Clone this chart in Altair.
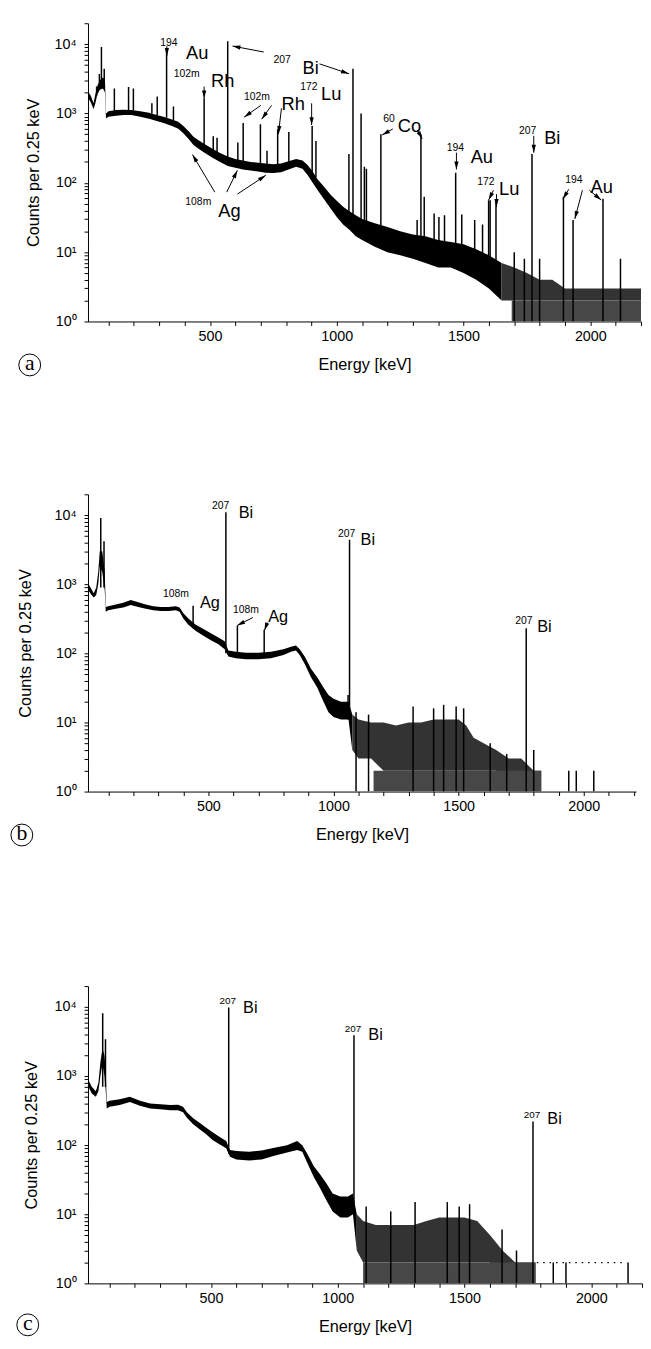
import math
import altair as alt
import pandas as pd

FONT = "Liberation Sans"
YMAX = 20000

# ---------------- Panel (a) ----------------
a_E = [18, 30, 41, 48, 56, 66, 78, 86, 90, 100, 130, 160, 190, 225, 260, 290, 320, 350, 375, 395,
       415, 435, 455, 480, 510, 540, 570, 600, 630, 660, 690, 720, 750, 780, 810, 840, 865, 885, 905, 925,
       950, 975, 1000, 1025, 1050, 1075, 1100, 1150, 1200, 1250, 1300, 1350, 1400, 1450, 1500, 1550, 1600, 1650,
       1700, 1750, 1800, 1850, 1900, 1950, 2000, 2050, 2100, 2150, 2200]
a_lo = [1700, 1450, 1150, 1400, 1900, 2200, 2300, 2000, 850, 900, 930, 950, 950, 900, 840, 780, 720, 660, 600, 520,
        430, 350, 310, 270, 230, 200, 175, 165, 155, 150, 145, 140, 138, 142, 155, 170, 160, 130, 100, 78,
        58, 43, 32, 25, 21, 17, 15, 12, 10, 9, 8, 7, 6, 6, 5, 4, 3, 2,
        2, 2, 2, 2, 2, 2, 2, 2, 2, 2, 2]
a_hi = [2100, 1800, 1400, 1900, 2500, 3000, 3300, 3000, 1000, 1080, 1120, 1130, 1120, 1080, 1020, 950, 890, 820, 760, 660,
        560, 460, 410, 360, 310, 270, 240, 220, 210, 200, 195, 190, 185, 190, 205, 220, 210, 180, 145, 112,
        88, 68, 55, 45, 39, 34, 30, 26, 23, 20, 18, 17, 15, 14, 13, 11, 9, 7,
        6, 5, 4, 4, 3, 3, 3, 3, 3, 3, 3]
a_cut = 1650
a_zero = [1690, 2200]
a_pk_E = [53, 64, 72, 83, 123, 179, 198, 271, 292, 329, 356, 477, 513, 528, 570, 610, 631, 699, 725, 767,
          811, 903, 918, 1048, 1064, 1096, 1109, 1117, 1174, 1317, 1332, 1345, 1384, 1403, 1425, 1469, 1493, 1544,
          1575, 1599, 1605, 1628, 1700, 1740, 1770, 1800, 1894, 1932, 2050, 2119]
a_pk_top = [2450, 3700, 9100, 4400, 2300, 2400, 2300, 1400, 1750, 8000, 1260, 1660, 470, 445, 11000, 380, 730, 700, 290, 590,
            540, 660, 400, 260, 4400, 1000, 170, 160, 500, 29, 500, 63, 36, 32, 34, 140, 35, 29,
            25, 56, 56, 57, 10, 8, 260, 8, 63, 29, 59, 8]
a_pk_base = [1800, 2300, 2300, 2300, 1000, 1100, 1100, 1000, 950, 870, 800, 300, 290, 270, 200, 180, 190, 180, 180, 180,
             190, 140, 120, 35, 35, 28, 27, 26, 24, 8, 17, 16, 13, 13, 12, 13, 12, 9,
             9, 8, 8, 7, 1, 1, 1, 1, 1, 1, 1, 1]
a_txt = ["194", "Au", "102m", "Rh", "207", "Bi", "102m", "Rh", "172", "Lu", "108m", "Ag",
         "60", "Co", "194", "Au", "172", "Lu", "207", "Bi", "194", "Au"]
a_txt_E = [338, 450, 408, 550, 785, 897, 685, 828, 890, 978, 454, 577,
           1206, 1287, 1468, 1572, 1588, 1680, 1753, 1850, 1935, 2045]
a_txt_C = [10300, 7450, 3740, 2970, 5920, 4550, 1700, 1355, 2440, 1880, 52.7, 39.3,
           828, 659, 320, 238, 102, 80.8, 559, 444, 109, 86.3]
a_ar_E0 = [330, 477, 712, 932, 701, 743, 782, 901, 519, 566, 608, 1221, 1318, 1472, 1618, 1630, 1777, 1915, 1969, 1996]
a_ar_C0 = [9370, 2440, 7690, 5190, 1310, 1310, 1188, 1400, 73.3, 73.3, 68.6, 597, 578, 272, 78.2, 68.6, 475, 80.8, 78.2, 78.2]
a_ar_E1 = [330, 477, 589, 1048, 635, 704, 770, 901, 431, 608, 720, 1179, 1337, 1472, 1599, 1630, 1777, 1892, 1939, 2043]
a_ar_C1 = [6750, 1650, 9370, 3740, 885, 828, 507, 680, 255, 151, 128, 490, 430, 156, 56.4, 44.8, 272, 58.2, 30.2, 56.4]

# ---------------- Panel (b) ----------------
b_E = [18, 30, 42, 52, 60, 66, 76, 86, 90, 100, 130, 160, 190, 220, 250, 280, 310, 340, 370, 385,
       400, 420, 450, 480, 510, 540, 565, 580, 610, 650, 700, 750, 800, 830, 850, 865, 885, 910, 935, 960,
       980, 1000, 1030, 1060, 1075, 1100, 1150, 1200, 1250, 1300, 1350, 1400, 1450, 1500, 1530, 1560, 1600, 1650,
       1700, 1750, 1800, 1830]
b_lo = [850, 720, 640, 700, 1000, 1800, 1500, 800, 400, 420, 440, 460, 500, 470, 440, 420, 410, 410, 420, 400,
        320, 260, 210, 180, 155, 135, 115, 90, 85, 82, 82, 85, 95, 105, 110, 95, 70, 45, 32, 20,
        14, 12, 11, 11, 4, 3, 3, 2, 2, 2, 2, 2, 2, 2, 2, 2, 2, 2,
        1, 1, 1, 1]
b_hi = [1050, 880, 740, 900, 1500, 3000, 3000, 1500, 470, 480, 510, 540, 590, 550, 510, 480, 470, 470, 480, 460,
        380, 320, 260, 225, 195, 170, 150, 110, 105, 102, 102, 105, 115, 125, 130, 115, 90, 60, 45, 32,
        25, 22, 20, 20, 13, 11, 10, 10, 9, 10, 10, 11, 11, 11, 9, 6, 5, 4,
        3, 3, 2, 2]
b_cut = 1075
b_zero = [1160, 1830]
b_pk_E = [70, 83, 439, 570, 616, 723, 1058, 1064, 1090, 1140, 1318, 1400, 1440, 1490, 1520, 1626, 1692,
          1770, 1800, 1940, 1970, 2040]
b_pk_top = [9100, 4200, 490, 11000, 250, 220, 25, 4400, 14, 13, 17, 16, 18, 17, 16, 5, 3.5,
            230, 4, 2, 2, 2]
b_pk_base = [900, 900, 230, 100, 90, 90, 11, 12, 1, 1, 1, 1, 1, 1, 1, 1, 1,
             1, 1, 1, 1, 1]
b_txt = ["207", "Bi", "108m", "Ag", "108m", "Ag", "207", "Bi", "207", "Bi"]
b_txt_E = [549, 650, 370, 506, 650, 779, 1052, 1137, 1761, 1843]
b_txt_C = [13500, 10700, 730, 542, 430, 330, 5330, 4370, 298, 237]
b_ar_E0 = [678, 736]
b_ar_C0 = [330, 279]
b_ar_E1 = [615, 724]
b_ar_C1 = [253, 214]

# ---------------- Panel (c) ----------------
c_E = [15, 30, 46, 56, 64, 72, 80, 85, 89, 100, 140, 180, 220, 260, 300, 340, 370, 390, 405, 430,
       455, 480, 505, 530, 560, 575, 600, 650, 700, 750, 800, 840, 860, 880, 905, 930, 955, 980, 1010, 1040,
       1060, 1075, 1100, 1150, 1200, 1250, 1300, 1350, 1400, 1450, 1500, 1550, 1600, 1650, 1700, 1780]
c_lo = [720, 560, 500, 600, 1000, 1500, 1000, 600, 340, 360, 380, 420, 370, 340, 330, 320, 320, 300, 250, 200,
        170, 145, 120, 105, 90, 68, 62, 60, 62, 70, 78, 85, 80, 55, 35, 24, 16, 11, 9, 9,
        10, 3, 2, 2, 2, 2, 2, 2, 2, 2, 2, 2, 2, 1, 1, 1]
c_hi = [900, 700, 600, 800, 1600, 2500, 2000, 1200, 420, 440, 460, 500, 440, 400, 390, 380, 385, 360, 300, 245,
        210, 180, 155, 135, 115, 85, 82, 80, 84, 92, 100, 115, 100, 75, 50, 38, 28, 20, 18, 18,
        20, 10, 8, 7, 7, 7, 7, 8, 9, 9, 9, 8, 5, 3, 2, 2]
c_cut = 1075
c_zero = [1100, 1780]
c_dot = [1785, 2140, 2]
c_pk_E = [73, 84, 570, 1064, 1112, 1209, 1305, 1432, 1479, 1520, 1648, 1705, 1770, 1850, 1900, 2145]
c_pk_top = [8100, 3400, 9800, 3900, 13, 11, 15, 15, 13, 14, 6, 3, 220, 2, 2, 2]
c_pk_base = [700, 700, 75, 10, 1, 1, 1, 1, 1, 1, 1, 1, 1, 1, 1, 1]
c_txt = ["207", "Bi", "207", "Bi", "207", "Bi"]
c_txt_E = [566, 655, 1060, 1149, 1766, 1855]
c_txt_C = [12000, 9550, 4770, 3910, 277, 235]

ARROW = "M0,0L0.27,1L-0.27,1Z"
Y_TICKS = [m * 10 ** k for k in range(0, 5) for m in range(1, 10)]
X_TICKS = list(range(100, 2201, 100))
Y_LABELS = ("datum.value == 1 ? '10\u2070' : datum.value == 10 ? '10\u00b9' : "
            "datum.value == 100 ? '10\u00b2' : datum.value == 1000 ? '10\u00b3' : "
            "datum.value == 10000 ? '10\u2074' : ''")


def panel(E, lo, hi, cut, zero, pk_E, pk_top, pk_base, txt, txt_E, txt_C,
          ar, letter, dom, W, H, ytitle_pad, big, small, top_ext, dot=None):
    xs = alt.Scale(domain=dom, nice=False, zero=False)
    ys = alt.Scale(type="log", domain=[1, YMAX], nice=False)
    xax = alt.Axis(values=X_TICKS, labelExpr="datum.value % 500 == 0 ? format(datum.value, 'd') : ''",
                   title="Energy [keV]", tickSize=4, labelPadding=4, titlePadding=14,
                   labelOverlap=False, labelFlush=False, grid=False)
    yax = alt.Axis(values=Y_TICKS, labelExpr=Y_LABELS, title="Counts per 0.25 keV",
                   tickSize=4, labelPadding=8, titlePadding=ytitle_pad,
                   labelOverlap=False, labelFlush=False, grid=False)

    def X(f):
        return alt.X(f, type="quantitative", scale=xs, axis=xax, title="Energy [keV]")

    def Y(f):
        return alt.Y(f, type="quantitative", scale=ys, axis=yax, title="Counts per 0.25 keV")

    bdf = pd.DataFrame({"E": E, "lo": lo, "hi": hi})
    band = alt.Chart(bdf[bdf.E <= cut]).mark_area(
        color="black", interpolate="linear", clip=True).encode(x=X("E"), y=Y("lo"), y2="hi")
    band2 = alt.Chart(bdf[bdf.E >= cut]).mark_area(
        color="#333333", interpolate="linear", clip=True).encode(x=X("E"), y=Y("lo"), y2="hi")
    zero_df = pd.DataFrame({"x0": [zero[0]], "x1": [zero[1]], "y0": [1], "y1": [2]})
    zeros = alt.Chart(zero_df).mark_rect(color="#474747", clip=True).encode(
        x=X("x0"), x2="x1", y=Y("y0"), y2="y1")
    peaks = alt.Chart(pd.DataFrame({"E": pk_E, "top": pk_top, "base": pk_base})).mark_rule(
        color="black", strokeWidth=1.5, clip=True).encode(x=X("E"), y=Y("base"), y2="top")
    tdf = pd.DataFrame({"t": txt, "E": txt_E, "C": txt_C,
                        "fs": [small if s[0].isdigit() else big for s in txt]})
    texts = alt.Chart(tdf).mark_text(font=FONT, color="black", align="center", baseline="middle").encode(
        x=X("E"), y=Y("C"), text="t:N", size=alt.Size("fs:Q", scale=None))
    layers = [band, band2, zeros, peaks, texts]

    if dot is not None:
        ddf = pd.DataFrame({"x0": [dot[0]], "x1": [dot[1]], "y0": [dot[2]]})
        layers.append(alt.Chart(ddf).mark_rule(color="black", strokeWidth=1.2, strokeDash=[1.5, 5]).encode(
            x=X("x0"), x2="x1", y=Y("y0")))

    if ar is not None:
        E0, C0, E1, C1 = ar
        lg = math.log10(YMAX)
        ang = []
        for e0, c0, e1, c1 in zip(E0, C0, E1, C1):
            dx = (e1 - e0) / (dom[1] - dom[0]) * W
            dy = -(math.log10(c1) - math.log10(c0)) / lg * H
            ang.append(math.degrees(math.atan2(dx, -dy)) % 360)
        adf = pd.DataFrame({"x0": E0, "y0": C0, "x1": E1, "y1": C1, "ang": ang})
        shafts = alt.Chart(adf).mark_rule(color="black", strokeWidth=1).encode(
            x=X("x0"), y=Y("y0"), x2="x1", y2="y1")
        heads = alt.Chart(adf).mark_point(shape=ARROW, filled=True, color="black", opacity=1,
                                          size=256, strokeWidth=0).encode(
            x=X("x1"), y=Y("y1"), angle=alt.Angle("ang:Q", scale=None))
        layers += [shafts, heads]

    ldf = pd.DataFrame({"t": [letter[0]]})
    circ = alt.Chart(ldf).mark_point(shape="circle", size=490, filled=False, color="black",
                                     strokeWidth=1, opacity=1).encode(
        x=alt.value(letter[1]), y=alt.value(H + letter[2]))
    let = alt.Chart(ldf).mark_text(font="Liberation Serif", fontSize=22, color="black",
                                   align="center", baseline="middle").encode(
        x=alt.value(letter[1]), y=alt.value(H + letter[2] - 2), text="t:N")
    marker = alt.Chart(ldf).mark_rule(color="white", strokeWidth=1).encode(
        x=alt.value(W / 2), y=alt.value(-top_ext), y2=alt.value(-top_ext + 1))
    layers += [circ, let, marker]
    return alt.layer(*layers).properties(width=W, height=H)


pa = panel(a_E, a_lo, a_hi, a_cut, a_zero, a_pk_E, a_pk_top, a_pk_base, a_txt, a_txt_E, a_txt_C,
           (a_ar_E0, a_ar_C0, a_ar_E1, a_ar_C1), ("a", -59, 44), [19, 2200], 560, 302, 13, 18.5, 10.5, 14)
pb = panel(b_E, b_lo, b_hi, b_cut, b_zero, b_pk_E, b_pk_top, b_pk_base, b_txt, b_txt_E, b_txt_C,
           (b_ar_E0, b_ar_C0, b_ar_E1, b_ar_C1), ("b", -67, 44), [19, 2209], 555, 301, 20.5, 16.5, 10.5, 14)
pc = panel(c_E, c_lo, c_hi, c_cut, c_zero, c_pk_E, c_pk_top, c_pk_base, c_txt, c_txt_E, c_txt_C,
           None, ("c", -61, 42), [15, 2200], 561, 301, 15, 16.5, 10, 36, dot=c_dot)

chart = alt.vconcat(pa, pb, pc, spacing=102).properties(
    padding={"left": 0, "top": -8, "right": 0, "bottom": 0}
).configure_view(stroke=None).configure_axis(
    labelFont=FONT, titleFont=FONT, labelFontSize=14.5, titleFontSize=16.5, titleFontWeight="normal",
    labelColor="black", titleColor="black", domainColor="black", tickColor="black",
    domainWidth=1, tickWidth=1
)

chart.save("out.html", embed_options={"renderer": "svg", "actions": False})
